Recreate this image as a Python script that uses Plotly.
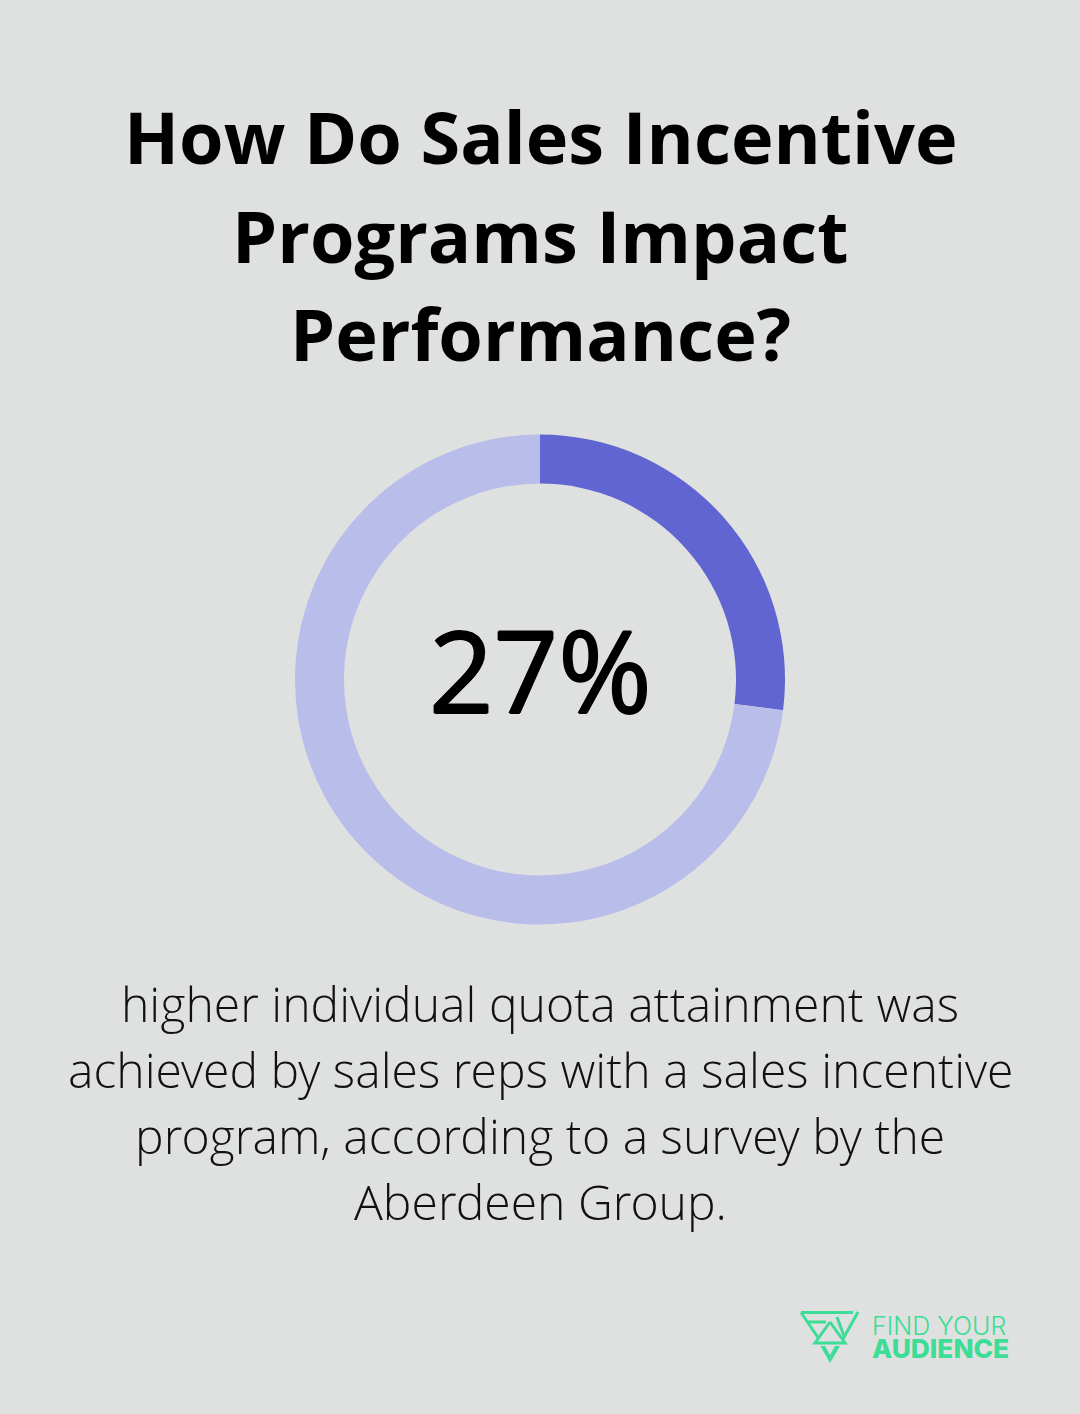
import plotly.graph_objects as go

title_lines = ["How Do Sales Incentive", "Programs Impact", "Performance?"]
caption_lines = ["higher individual quota attainment was",
                 "achieved by sales reps with a sales incentive",
                 "program, according to a survey by the",
                 "Aberdeen Group."]
values = [27, 73]
labels = ["Higher attainment", "Remainder"]
colors = ["#6065D2", "#B9BDEA"]
center_text = "27%"
W, H = 1080, 1414
BG = "#DFE1E0"
GREEN = "#3DDC97"

fig = go.Figure(go.Pie(values=values, labels=labels, hole=0.8, sort=False, direction="clockwise",
                       rotation=0, marker=dict(colors=colors, line=dict(width=0)),
                       textinfo="none", hoverinfo="label+percent", showlegend=False,
                       domain=dict(x=[295/W, 785/W], y=[1-924.5/H, 1-434.5/H])))

def text(x, y, s, size, color="#000000", family="Open Sans", weight=400, anchor="center", shadow="none"):
    fig.add_annotation(x=x/W, y=1-y/H, xref="paper", yref="paper", text=s,
                       showarrow=False, xanchor=anchor, yanchor="middle",
                       font=dict(size=size, color=color, family=family, weight=weight, shadow=shadow))

for y, s in zip([136, 235, 333], title_lines):
    text(540, y, s, 72, weight=700)
text(540, 669, center_text, 113, weight=400,
     shadow="1px 0 0 #000, -1px 0 0 #000, 0 1px 0 #000, 0 -1px 0 #000")
for y, s in zip([1003, 1069, 1135, 1201], caption_lines):
    text(540, y, s, 48.1, color="#111111", family="Open Sans Light, Open Sans", weight=300)
text(870, 1326, "FIND YOUR", 25, color=GREEN, family="Inter", weight=300, anchor="left")
text(870, 1348, "AUDIENCE", 26.3, color=GREEN, family="Inter", weight=800, anchor="left")

def px(x): return x/W
def py(y): return 1-y/H
logo_strokes = [
    [(801,1312.5),(853,1312.5)],
    [(801,1312.5),(819,1339)],
    [(808,1322),(826,1322)],
    [(837,1317),(844,1336)],
    [(858,1312),(843,1339)],
    [(830,1322),(815,1343),(845,1343),(830,1322)],
]
logo_fill = [(820.5,1346),(825,1346),(830,1355),(835,1346),(840,1346),(830,1363)]
shapes = []
for pts in logo_strokes:
    path = "M " + " L ".join(f"{px(a)},{py(b)}" for a, b in pts)
    shapes.append(dict(type="path", xref="paper", yref="paper", path=path,
                       line=dict(color=GREEN, width=3), fillcolor="rgba(0,0,0,0)"))
shapes.append(dict(type="path", xref="paper", yref="paper",
                   path="M " + " L ".join(f"{px(a)},{py(b)}" for a, b in logo_fill) + " Z",
                   line=dict(width=0), fillcolor=GREEN))
fig.update_layout(width=W, height=H, margin=dict(l=0, r=0, t=0, b=0), paper_bgcolor=BG,
                  plot_bgcolor=BG, shapes=shapes)
fig.write_html("out.html", config=dict(displayModeBar=False),
               post_script=f"document.body.style.margin='0';document.body.style.background='{BG}';document.documentElement.style.overflow='hidden';")
